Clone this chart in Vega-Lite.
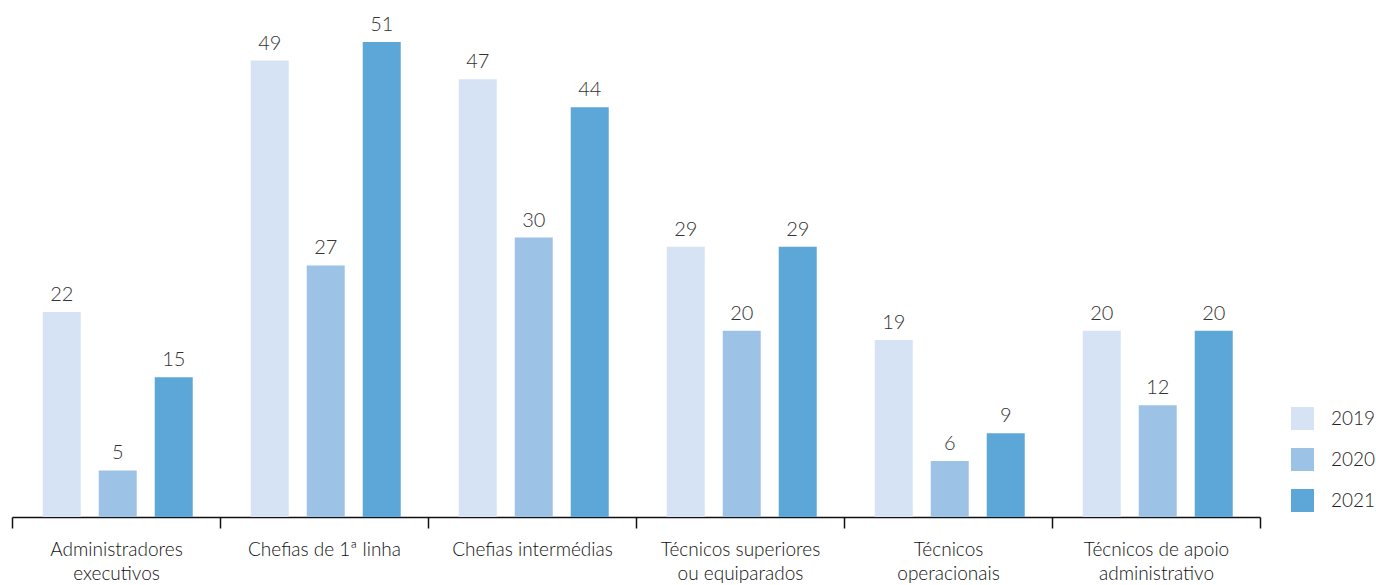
{
  "$schema": "https://vega.github.io/schema/vega-lite/v6.json",
  "width": 1248,
  "height": 517,
  "padding": {"left": 12, "top": 0, "right": 116, "bottom": 68},
  "autosize": {"type": "none"},
  "background": "white",
  "config": {
    "view": {"stroke": null},
    "font": "Lato",
    "text": {"font": "Lato"}
  },
  "data": {
    "values": [
      {"categoria": "Administradores executivos", "ano": "2019", "valor": 22},
      {"categoria": "Administradores executivos", "ano": "2020", "valor": 5},
      {"categoria": "Administradores executivos", "ano": "2021", "valor": 15},
      {"categoria": "Chefias de 1ª linha", "ano": "2019", "valor": 49},
      {"categoria": "Chefias de 1ª linha", "ano": "2020", "valor": 27},
      {"categoria": "Chefias de 1ª linha", "ano": "2021", "valor": 51},
      {"categoria": "Chefias intermédias", "ano": "2019", "valor": 47},
      {"categoria": "Chefias intermédias", "ano": "2020", "valor": 30},
      {"categoria": "Chefias intermédias", "ano": "2021", "valor": 44},
      {"categoria": "Técnicos superiores ou equiparados", "ano": "2019", "valor": 29},
      {"categoria": "Técnicos superiores ou equiparados", "ano": "2020", "valor": 20},
      {"categoria": "Técnicos superiores ou equiparados", "ano": "2021", "valor": 29},
      {"categoria": "Técnicos operacionais", "ano": "2019", "valor": 19},
      {"categoria": "Técnicos operacionais", "ano": "2020", "valor": 6},
      {"categoria": "Técnicos operacionais", "ano": "2021", "valor": 9},
      {"categoria": "Técnicos de apoio administrativo", "ano": "2019", "valor": 20},
      {"categoria": "Técnicos de apoio administrativo", "ano": "2020", "valor": 12},
      {"categoria": "Técnicos de apoio administrativo", "ano": "2021", "valor": 20}
    ]
  },
  "encoding": {
    "x": {
      "field": "categoria",
      "type": "nominal",
      "sort": null,
      "title": null,
      "scale": {"paddingInner": 0, "paddingOuter": 0},
      "axis": {
        "domainColor": "#111111",
        "domainWidth": 1.5,
        "tickColor": "#111111",
        "tickWidth": 1.5,
        "tickSize": 11,
        "tickBand": "extent",
        "labelAngle": 0,
        "labelFont": "Lato",
        "labelFontSize": 19,
        "labelFontWeight": 300,
        "labelColor": "#111111",
        "labelPadding": 12,
        "labelLineHeight": 24,
        "labelBaseline": "top",
        "labelExpr": "datum.value == 'Administradores executivos' ? ['Administradores', 'executivos'] : datum.value == 'Técnicos superiores ou equiparados' ? ['Técnicos superiores', 'ou equiparados'] : datum.value == 'Técnicos operacionais' ? ['Técnicos', 'operacionais'] : datum.value == 'Técnicos de apoio administrativo' ? ['Técnicos de apoio', 'administrativo'] : datum.value"
      }
    },
    "xOffset": {
      "field": "ano",
      "type": "nominal",
      "scale": {"paddingInner": 0.3214, "paddingOuter": 0.518, "align": 0.53}
    },
    "y": {
      "field": "valor",
      "type": "quantitative",
      "scale": {"domain": [0, 55.5], "nice": false, "zero": true},
      "axis": null
    }
  },
  "layer": [
    {
      "mark": {"type": "bar"},
      "encoding": {
        "color": {
          "field": "ano",
          "type": "nominal",
          "scale": {
            "domain": ["2019", "2020", "2021"],
            "range": ["#d6e3f4", "#9cc2e6", "#5ca6d8"]
          },
          "legend": {
            "orient": "none",
            "legendX": 1279,
            "legendY": 407,
            "title": null,
            "symbolType": "square",
            "symbolSize": 529,
            "symbolStrokeWidth": 0,
            "rowPadding": 18,
            "labelOffset": 17,
            "labelFont": "Lato",
            "labelFontSize": 19,
            "labelFontWeight": 300,
            "labelColor": "#222222",
            "padding": 0
          }
        }
      }
    },
    {
      "mark": {
        "type": "text",
        "baseline": "alphabetic",
        "dy": -11,
        "font": "Lato",
        "fontSize": 20,
        "fontWeight": 300,
        "color": "#333333"
      },
      "encoding": {
        "text": {"field": "valor", "type": "quantitative"}
      }
    }
  ]
}
